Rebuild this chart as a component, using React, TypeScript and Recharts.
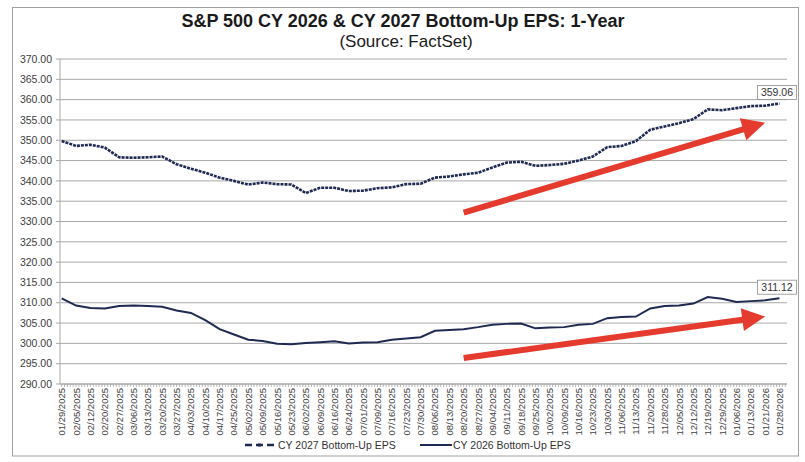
import React from 'react';
import {
	LineChart,
	Line,
	XAxis,
	YAxis,
	CartesianGrid,
	ReferenceLine,
	LabelList,
} from 'recharts';

// weekly dates shown on the x axis
const dates = [
	'01/29/2025', '02/05/2025', '02/12/2025', '02/20/2025', '02/27/2025',
	'03/06/2025', '03/13/2025', '03/20/2025', '03/27/2025', '04/03/2025',
	'04/10/2025', '04/17/2025', '04/25/2025', '05/02/2025', '05/09/2025',
	'05/16/2025', '05/23/2025', '06/02/2025', '06/09/2025', '06/16/2025',
	'06/24/2025', '07/01/2025', '07/09/2025', '07/16/2025', '07/23/2025',
	'07/30/2025', '08/06/2025', '08/13/2025', '08/20/2025', '08/27/2025',
	'09/04/2025', '09/11/2025', '09/18/2025', '09/25/2025', '10/02/2025',
	'10/09/2025', '10/16/2025', '10/23/2025', '10/30/2025', '11/06/2025',
	'11/13/2025', '11/20/2025', '11/28/2025', '12/05/2025', '12/12/2025',
	'12/19/2025', '12/29/2025', '01/06/2026', '01/13/2026', '01/21/2026',
	'01/28/2026',
];

const cy2027 = [
	349.8, 348.6, 348.9, 348.2, 345.8, 345.7, 345.8, 346.0, 344.1, 343.0,
	342.0, 340.8, 340.0, 339.1, 339.6, 339.2, 339.1, 337.0, 338.3, 338.3,
	337.5, 337.6, 338.2, 338.4, 339.2, 339.3, 340.8, 341.1, 341.6, 342.0,
	343.3, 344.5, 344.7, 343.7, 343.9, 344.2, 345.0, 346.0, 348.3, 348.6,
	349.8, 352.6, 353.4, 354.2, 355.2, 357.6, 357.4, 357.9, 358.4, 358.5,
	359.06,
];

const cy2026 = [
	311.1, 309.3, 308.7, 308.6, 309.2, 309.3, 309.2, 309.0, 308.1, 307.5,
	305.7, 303.5, 302.2, 300.9, 300.6, 299.9, 299.8, 300.1, 300.3, 300.5,
	300.0, 300.2, 300.3, 300.9, 301.2, 301.5, 303.1, 303.3, 303.5, 304.0,
	304.6, 304.8, 304.9, 303.7, 303.9, 304.0, 304.6, 304.8, 306.2, 306.5,
	306.6, 308.6, 309.2, 309.3, 309.8, 311.4, 311.0, 310.2, 310.4, 310.6,
	311.12,
];

const yTicks = [290, 295, 300, 305, 310, 315, 320, 325, 330, 335, 340, 345, 350, 355, 360, 365, 370];

// trend arrows (start date/value -> tip date/value)
const arrow2027 = [{ x: '08/20/2025', y: 332.2 }, { x: '01/21/2026', y: 354.3 }];
const arrow2026 = [{ x: '08/20/2025', y: 296.4 }, { x: '01/21/2026', y: 306.6 }];

const data = dates.map((d, i) => ({ date: d, cy2027: cy2027[i], cy2026: cy2026[i] }));

const W = 805;
const H = 462;
const NAVY = '#1f2a52';
const GRID = '#a8a8a8';
const RED = '#e53b2f';
const TXT = '#404040';
const FONT = '"Liberation Sans", Arial, sans-serif';

const PLOT_LEFT = 60;
const PLOT_RIGHT = 787;
const AXIS_Y = 384;
const PAD_L = 1.7;
const PAD_R = 7.5;
const STEP = (PLOT_RIGHT - PLOT_LEFT - PAD_L - PAD_R) / (dates.length - 1);

function DateTick(props: any) {
	const { x, payload, index } = props;
	const minor = index === dates.length - 1 ? 3 : 5;
	const marks = [];
	for (let k = 0; k < minor; k++) {
		const mx = x + (k * STEP) / 5;
		marks.push(<line key={k} x1={mx} x2={mx} y1={AXIS_Y} y2={AXIS_Y + 3} stroke={GRID} strokeWidth={0.8} />);
	}
	return (
		<g>
			{marks}
			<text
				x={x}
				y={AXIS_Y + 4}
				transform={`rotate(-90, ${x}, ${AXIS_Y + 4})`}
				textAnchor="end"
				dominantBaseline="central"
				fontSize={9.5}
				fontFamily={FONT}
				fill={TXT}
			>
				{payload.value}
			</text>
		</g>
	);
}

function EndLabel(props: any) {
	const { x, y, value, index } = props;
	if (index !== dates.length - 1) return null;
	const w = 39;
	const h = 14;
	const cx = x - 2.5;
	return (
		<g>
			<rect x={cx - w / 2} y={y - 4 - h} width={w} height={h} fill="#fff" stroke="#8c8c8c" strokeWidth={0.8} />
			<text x={cx} y={y - 4 - h / 2} textAnchor="middle" dominantBaseline="central" fontSize={10.5} fontFamily={FONT} fill="#333">
				{Number(value).toFixed(2)}
			</text>
		</g>
	);
}

function Arrow(props: any) {
	const { x1, y1, x2, y2 } = props;
	const dx = x2 - x1;
	const dy = y2 - y1;
	const len = Math.hypot(dx, dy) || 1;
	const ux = dx / len;
	const uy = dy / len;
	const nx = -uy;
	const ny = ux;
	const head = 23;
	const hw = 11.5;
	const sw = 3;
	const bx = x2 - ux * head;
	const by = y2 - uy * head;
	const pts = [
		[x1 + nx * sw, y1 + ny * sw],
		[bx + nx * sw, by + ny * sw],
		[bx + nx * hw, by + ny * hw],
		[x2, y2],
		[bx - nx * hw, by - ny * hw],
		[bx - nx * sw, by - ny * sw],
		[x1 - nx * sw, y1 - ny * sw],
	];
	return <polygon points={pts.map((p) => p.join(',')).join(' ')} fill={RED} />;
}

export default function App() {
	return (
		<div style={{ position: 'absolute', left: 0, top: 0, width: W, height: H, background: '#fff' }}>
			<LineChart width={W} height={H} data={data} margin={{ top: 59, right: W - PLOT_RIGHT, left: 10, bottom: 0 }}>
				<CartesianGrid vertical={false} stroke={GRID} strokeWidth={1} />
				<XAxis
					dataKey="date"
					interval={0}
					height={78}
					padding={{ left: PAD_L, right: PAD_R }}
					axisLine={{ stroke: GRID }}
					tickLine={false}
					tick={<DateTick />}
				/>
				<YAxis
					domain={[290, 370]}
					ticks={yTicks}
					interval={0}
					width={50}
					tickFormatter={(v: number) => v.toFixed(2)}
					axisLine={{ stroke: GRID }}
					tickLine={{ stroke: GRID }}
					tickSize={4}
					tickMargin={4}
					tick={{ fontSize: 10.5, fontFamily: FONT, fill: TXT }}
				/>
				<ReferenceLine segment={arrow2027} shape={Arrow} />
				<ReferenceLine segment={arrow2026} shape={Arrow} />
				<Line
					type="linear"
					dataKey="cy2027"
					stroke={NAVY}
					strokeWidth={2.6}
					strokeDasharray="3 1"
					dot={false}
					isAnimationActive={false}
				>
					<LabelList dataKey="cy2027" content={EndLabel} />
				</Line>
				<Line
					type="linear"
					dataKey="cy2026"
					stroke={NAVY}
					strokeWidth={2}
					dot={false}
					isAnimationActive={false}
				>
					<LabelList dataKey="cy2026" content={EndLabel} />
				</Line>
			</LineChart>
			<svg width={W} height={H} style={{ position: 'absolute', left: 0, top: 0, pointerEvents: 'none' }}>
				<rect x={12.5} y={7.5} width={786} height={448.5} fill="none" stroke="#a0a0a0" strokeWidth={1} />
				<text x={403} y={27} textAnchor="middle" fontSize={18} fontWeight="bold" fontFamily={FONT} fill="#1a1a1a">
					S&amp;P 500 CY 2026 &amp; CY 2027 Bottom-Up EPS: 1-Year
				</text>
				<text x={406} y={47} textAnchor="middle" fontSize={17} fontFamily={FONT} fill="#1a1a1a">
					(Source: FactSet)
				</text>
				<line x1={245} x2={275} y1={445} y2={445} stroke={NAVY} strokeWidth={2.5} strokeDasharray="7 4" />
				<rect x={258} y={443.5} width={3} height={3} fill={NAVY} />
				<text x={278} y={448.5} fontSize={10.5} fontFamily={FONT} fill="#333">
					CY 2027 Bottom-Up EPS
				</text>
				<line x1={420} x2={452} y1={445} y2={445} stroke={NAVY} strokeWidth={2} />
				<text x={453} y={448.5} fontSize={10.5} fontFamily={FONT} fill="#333">
					CY 2026 Bottom-Up EPS
				</text>
			</svg>
		</div>
	);
}
